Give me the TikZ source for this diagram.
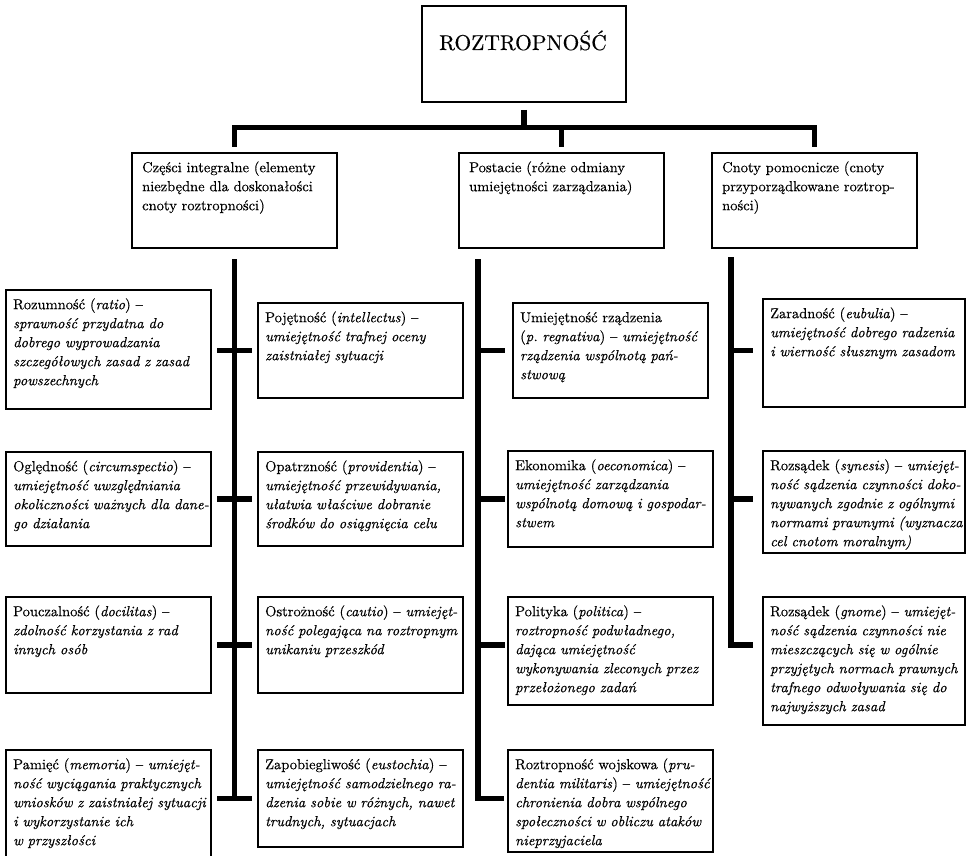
\documentclass[tikz,border=0pt]{standalone}
\usepackage{fontspec}
\setmainfont{lmroman10-regular.otf}[ItalicFont=lmroman10-italic.otf, RawFeature={embolden=0.35}]
\newcommand{\mybox}[7]{%
  \node[box, minimum width=#4pt, minimum height=#5pt] (#1) at (#2,#3) {};
  \node[txt] (#1t) at ([xshift=#6pt, yshift=-5.7pt]#1.north west) {\strut #7};}
\begin{document}
\begin{tikzpicture}[x=1pt,y=-1pt,
  box/.style={draw, line width=2.6pt, inner sep=0pt, outer sep=0pt, anchor=north west},
  txt/.style={inner sep=0pt, anchor=north west, text width=260pt, align=left,
    font=\fontsize{14.5}{19}\selectfont},
  conn/.style={line width=5.5pt, line join=miter}]
\useasboundingbox (0,0) rectangle (969,856);

% top
\node[box, minimum width=204pt, minimum height=96pt] (top) at (422,6) {};
\node[inner sep=0pt, anchor=base, font=\fontsize{21.5}{25}\selectfont] (topt) at (523,50) {ROZTROPNOŚĆ};

% categories
\mybox{c1}{132}{153}{205}{95}{10}{Części integralne (elementy\\ niezbędne dla doskonałości\\ cnoty roztropności)}
\mybox{c2}{459}{153}{205}{95}{10}{Postacie (różne odmiany\\ umiejętności zarządzania)}
\mybox{c3}{712}{153}{205}{95}{10}{Cnoty pomocnicze (cnoty\\ przyporządkowane roztrop-\\ ności)}

% left column
\mybox{r1}{6}{290}{205}{119}{7}{Rozumność (\textit{ratio}) –\\ \textit{sprawność przydatna do\\ dobrego wyprowadzania\\ szczegółowych zasad z zasad\\ powszechnych}}
\mybox{r2}{6}{452}{205}{94}{7}{Oględność (\textit{circumspectio}) –\\ \textit{umiejętność uwzględniania\\ okoliczności ważnych dla dane-\\ go działania}}
\mybox{r3}{6}{597}{205}{96}{7}{Pouczalność (\textit{docilitas}) –\\ \textit{zdolność korzystania z rad\\ innych osób}}
\mybox{r4}{6}{750}{205}{110}{7}{Pamięć (\textit{memoria}) – \textit{umiejęt-\\ ność wyciągania praktycznych\\ wniosków z zaistniałej sytuacji\\ i wykorzystanie ich\\ w przyszłości}}

\mybox{p1}{258}{303}{205}{95}{7}{Pojętność (\textit{intellectus}) –\\ \textit{umiejętność trafnej oceny\\ zaistniałej sytuacji}}
\mybox{p2}{258}{452}{205}{94}{7}{Opatrzność (\textit{providentia}) –\\ \textit{umiejętność przewidywania,\\ ułatwia właściwe dobranie\\ środków do osiągnięcia celu}}
\mybox{p3}{258}{597}{205}{96}{7}{Ostrożność (\textit{cautio}) – \textit{umiejęt-\\ ność polegająca na roztropnym\\ unikaniu przeszkód}}
\mybox{p4}{258}{750}{205}{97}{7}{Zapobiegliwość (\textit{eustochia}) –\\ \textit{umiejętność samodzielnego ra-\\ dzenia sobie w różnych, nawet\\ trudnych, sytuacjach}}

% middle column
\mybox{m1}{513}{303}{195}{95}{7}{Umiejętność rządzenia\\ (\textit{p.\ regnativa}) – \textit{umiejętność\\ rządzenia wspólnotą pań-\\ stwową}}
\mybox{m2}{508}{451}{205}{96}{7}{Ekonomika (\textit{oeconomica}) –\\ \textit{umiejętność zarządzania\\ wspólnotą domową i gospodar-\\ stwem}}
\mybox{m3}{508}{597}{205}{108}{7}{Polityka (\textit{politica}) –\\ \textit{roztropność podwładnego,\\ dająca umiejętność\\ wykonywania zleconych przez\\ przełożonego zadań}}
\mybox{m4}{508}{750}{205}{102}{7}{Roztropność wojskowa (\textit{pru-\\ dentia militaris}) – \textit{umiejętność\\ chronienia dobra wspólnego\\ społeczności w obliczu ataków\\ nieprzyjaciela}}

% right column
\mybox{z1}{763}{299}{202}{108}{7}{Zaradność (\textit{eubulia}) –\\ \textit{umiejętność dobrego radzenia\\ i wierność słusznym zasadom}}
\mybox{z2}{763}{451}{202}{102}{7}{Rozsądek (\textit{synesis}) – \textit{umiejęt-\\ ność sądzenia czynności doko-\\ nywanych zgodnie z ogólnymi\\ normami prawnymi (wyznacza\\ cel cnotom moralnym)}}
\mybox{z3}{763}{597}{202}{128}{7}{Rozsądek (\textit{gnome}) – \textit{umiejęt-\\ ność sądzenia czynności nie\\ mieszczących się w ogólnie\\ przyjętych normach prawnych\\ trafnego odwoływania się do\\ najwyższych zasad}}

% upper connectors
\coordinate (bar) at (524,127.5);
\draw[conn] ([yshift=-8pt]top.south) -- (top.south |- bar);
\draw[conn] ([yshift=6pt]c1.north) -- (c1.north |- bar) -- (c3.north |- bar) -- ([yshift=6pt]c3.north);
\draw[conn] ([yshift=6pt]c2.north) -- (c2.north |- bar);

% left trunk
\coordinate (tL) at ([yshift=-11pt]c1.south);
\draw[conn] (tL) -- (tL |- p4.west);
\draw[conn] ([xshift=6pt]p1.west -| r1.east) -- ([xshift=-6pt]p1.west);
\draw[conn] ([xshift=6pt]p2.west -| r2.east) -- ([xshift=-6pt]p2.west);
\draw[conn] ([xshift=6pt]p3.west -| r3.east) -- ([xshift=-6pt]p3.west);
\draw[conn] ([xshift=6pt]p4.west -| r4.east) -- ([xshift=-6pt]p4.west);

% middle trunk
\coordinate (tM) at ([xshift=19pt,yshift=-11pt]c2.south west);
\draw[conn] (tM) -- (tM |- p4.west) -- ([xshift=-4pt]m4.west |- p4.west);
\draw[conn] (tM |- p1.west) -- ([xshift=-8pt]m1.west |- p1.west);
\draw[conn] (tM |- p2.west) -- ([xshift=-3pt]m2.west |- p2.west);
\draw[conn] (tM |- p3.west) -- ([xshift=-3pt]m3.west |- p3.west);

% right trunk
\coordinate (tR) at ([xshift=19pt,yshift=-9pt]c3.south west);
\draw[conn] (tR) -- (tR |- p3.west) -- ([xshift=-10pt]z3.west |- p3.west);
\draw[conn] (tR |- p1.west) -- ([xshift=-10pt]z1.west |- p1.west);
\draw[conn] (tR |- p2.west) -- ([xshift=-10pt]z2.west |- p2.west);
\end{tikzpicture}
\end{document}
